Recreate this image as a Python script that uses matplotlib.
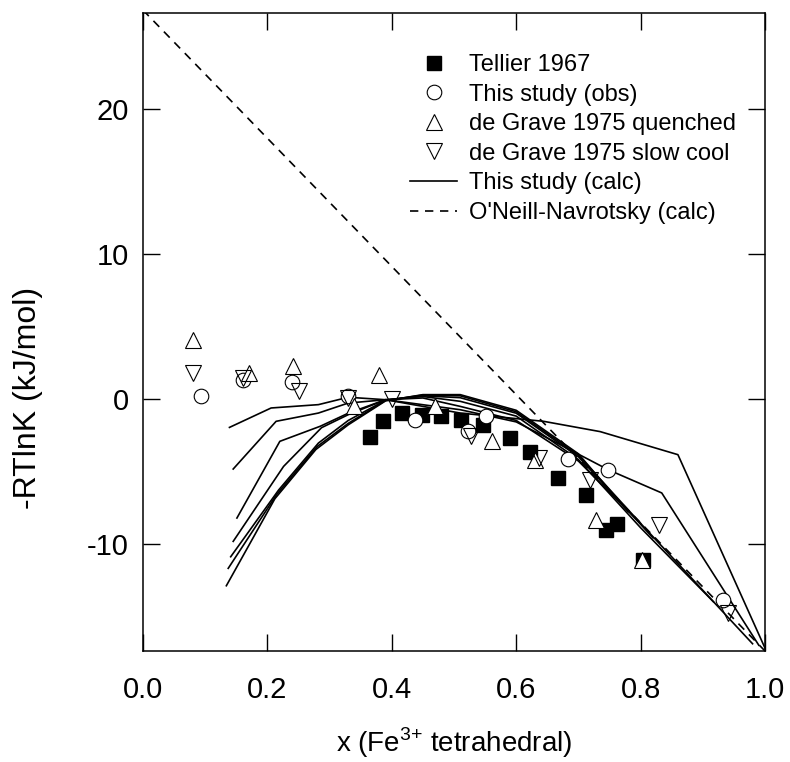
import matplotlib.pyplot as plt
from matplotlib.lines import Line2D

plt.rcParams['font.family'] = ['Liberation Sans', 'DejaVu Sans']
plt.rcParams['mathtext.fontset'] = 'custom'
plt.rcParams['mathtext.rm'] = 'Liberation Sans'

# Tellier 1967
tel_x = [0.365, 0.386, 0.417, 0.448, 0.479, 0.512, 0.546, 0.590, 0.622, 0.668, 0.712, 0.744, 0.762, 0.804]
tel_y = [-2.64, -1.52, -0.99, -1.10, -1.22, -1.49, -1.84, -2.71, -3.70, -5.47, -6.62, -9.03, -8.62, -11.1]

# This study (obs)
obs_x = [0.093, 0.161, 0.239, 0.330, 0.437, 0.522, 0.552, 0.684, 0.748, 0.933]
obs_y = [0.21, 1.31, 1.13, 0.21, -1.49, -2.21, -1.22, -4.14, -4.90, -13.9]

# de Grave 1975 quenched
dgq_x = [0.081, 0.171, 0.241, 0.340, 0.380, 0.469, 0.561, 0.630, 0.729, 0.802]
dgq_y = [4.02, 1.77, 2.28, -0.53, 1.66, -0.53, -2.94, -4.21, -8.34, -11.1]

# de Grave 1975 slow cool
dgs_x = [0.081, 0.160, 0.250, 0.330, 0.400, 0.528, 0.636, 0.718, 0.829, 0.941]
dgs_y = [1.77, 1.43, 0.51, 0.05, -0.02, -2.60, -4.09, -5.59, -8.69, -14.8]

# This study (calc), one curve per run
calc_x = [
    [0.139, 0.206, 0.282, 0.33, 0.39, 0.51, 0.644, 0.735, 0.86, 1.0],
    [0.145, 0.214, 0.282, 0.33, 0.39, 0.51, 0.60, 0.69, 0.748, 0.834, 0.99],
    [0.151, 0.220, 0.285, 0.33, 0.39, 0.45, 0.51, 0.60, 0.70, 0.80, 0.98],
    [0.145, 0.226, 0.287, 0.33, 0.39, 0.45, 0.51, 0.60, 0.70, 0.80, 0.917],
    [0.141, 0.218, 0.282, 0.33, 0.39, 0.45, 0.51, 0.60, 0.70, 0.82],
    [0.137, 0.215, 0.280, 0.33, 0.39, 0.45, 0.51, 0.60, 0.70, 0.80],
    [0.134, 0.212, 0.278, 0.33, 0.39, 0.45, 0.51, 0.60, 0.70, 0.78],
]
calc_y = [
    [-1.98, -0.64, -0.41, 0.10, -0.07, -0.99, -1.56, -2.27, -3.86, -17.2],
    [-4.85, -1.56, -0.99, -0.30, -0.07, -0.76, -1.6, -3.6, -4.9, -6.5, -17.0],
    [-8.23, -2.94, -1.90, -1.00, -0.07, 0.05, -0.53, -1.5, -4.3, -8.6, -16.9],
    [-9.84, -4.67, -2.00, -1.10, -0.07, 0.15, -0.18, -1.2, -4.2, -8.9, -14.0],
    [-10.9, -6.30, -3.06, -1.50, -0.10, 0.20, 0.07, -1.0, -4.0, -9.6],
    [-11.7, -6.60, -3.30, -1.70, -0.12, 0.25, 0.20, -0.9, -3.9, -8.6],
    [-12.9, -6.90, -3.50, -1.80, -0.15, 0.28, 0.28, -0.8, -3.8, -7.8],
]

# O'Neill-Navrotsky (calc), linear
on_x = [0.0, 1.0]
on_y = [26.8, -17.4]

xticks = [0.0, 0.2, 0.4, 0.6, 0.8, 1.0]
xtick_labels = ['0.0', '0.2', '0.4', '0.6', '0.8', '1.0']
yticks = [-10, 0, 10, 20]
ytick_labels = ['-10', '0', '10', '20']

fig = plt.figure(figsize=(7.9, 7.62), dpi=100)
ax = fig.add_axes([143 / 790, 111 / 762, 622 / 790, 638 / 762])

for xs, ys in zip(calc_x, calc_y):
    ax.plot(xs, ys, color='black', lw=1.2, zorder=2)
ax.plot(on_x, on_y, color='black', lw=1.2, dashes=(5, 4), zorder=2)

ms = 10.5
ax.plot(tel_x, tel_y, 's', ms=ms - 1, mfc='black', mec='black', mew=1, ls='none', zorder=3)
ax.plot(obs_x, obs_y, 'o', ms=ms, mfc='white', mec='black', mew=0.8, ls='none', zorder=3)
ax.plot(dgq_x, dgq_y, '^', ms=ms + 1, mfc='white', mec='black', mew=0.8, ls='none', zorder=3)
ax.plot(dgs_x, dgs_y, 'v', ms=ms + 1, mfc='none', mec='black', mew=0.8, ls='none', zorder=3)

ax.set_xlim(0, 1.0)
ax.set_ylim(-17.4, 26.6)
ax.set_xticks(xticks)
ax.set_xticklabels(xtick_labels, fontsize=21)
ax.set_yticks(yticks)
ax.set_yticklabels(ytick_labels, fontsize=21)
ax.tick_params(direction='in', length=12, width=1, top=True, right=True)
ax.tick_params(axis='x', pad=18)
ax.tick_params(axis='y', pad=10)
for sp in ax.spines.values():
    sp.set_linewidth(1.1)

ax.set_xlabel('x (Fe$^{3{+}}$ tetrahedral)', fontsize=20)
ax.xaxis.set_label_coords(0.5, -(743 - 651) / 638)
ax.xaxis.label.set_va('center')
ax.set_ylabel('-RTlnK (kJ/mol)', fontsize=23)
ax.yaxis.set_label_coords(-(143 - 28) / 622, (651 - 398) / 638)
ax.yaxis.label.set_va('center')

handles = [
    Line2D([], [], marker='s', ms=ms - 1, mfc='black', mec='black', ls='none'),
    Line2D([], [], marker='o', ms=ms, mfc='white', mec='black', mew=0.8, ls='none'),
    Line2D([], [], marker='^', ms=ms + 1, mfc='white', mec='black', mew=0.8, ls='none'),
    Line2D([], [], marker='v', ms=ms + 1, mfc='white', mec='black', mew=0.8, ls='none'),
    Line2D([], [], color='black', lw=1.2),
    Line2D([], [], color='black', lw=1.2, dashes=(5, 4)),
]
labels = ['Tellier 1967', 'This study (obs)', 'de Grave 1975 quenched',
          'de Grave 1975 slow cool', 'This study (calc)', "O'Neill-Navrotsky (calc)"]
ax.legend(handles, labels, loc='upper left', bbox_to_anchor=(410 / 790, 1 - 54 / 762),
          bbox_transform=fig.transFigure, frameon=False, fontsize=17,
          handlelength=2.0, handletextpad=0.5, labelspacing=0.32,
          borderpad=0, borderaxespad=0)

fig.savefig('out.png', dpi=100)
